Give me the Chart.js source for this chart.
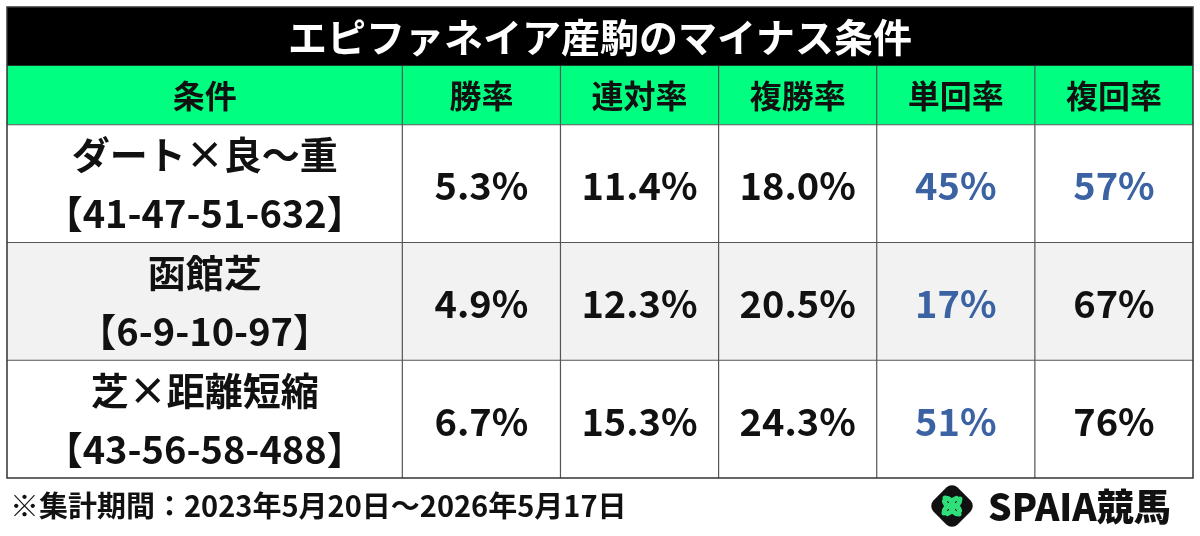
<!DOCTYPE html>
<html><head><meta charset="utf-8">
<script src="https://cdn.jsdelivr.net/npm/chart.js@4.4.1/dist/chart.umd.min.js"></script>
<style>html,body{margin:0;padding:0;background:#fff}#wrap{width:1200px;height:536px}</style>
</head><body><div id="wrap"><canvas id="c"></canvas></div>
<script>
const title = 'エピファネイア産駒のマイナス条件';
const headers = ['条件', '勝率', '連対率', '複勝率', '単回率', '複回率'];
const conditions = ['ダート×良～重', '函館芝', '芝×距離短縮'];
const records = ['【41-47-51-632】', '【6-9-10-97】', '【43-56-58-488】'];
const winRate = [5.3, 4.9, 6.7];
const placeRate = [11.4, 12.3, 15.3];
const showRate = [18.0, 20.5, 24.3];
const winReturn = [45, 17, 51];
const showReturn = [57, 67, 76];
const note = '※集計期間：2023年5月20日～2026年5月17日';

const FONT = '"Noto Sans CJK JP", "Noto Sans", sans-serif';
const firstColUnits = 2.5; // condition column is wider

function colEdge(i) { return i === 0 ? 0 : firstColUnits + (i - 1); }

const tablePlugin = {
    id: 'table',
    afterDraw(chart) {
        const ctx = chart.ctx;
        const x = chart.scales.x, y = chart.scales.y;
        const L = x.getPixelForValue(0), R = x.getPixelForValue(colEdge(headers.length));
        const px = v => x.getPixelForValue(v);
        const py = v => y.getPixelForValue(v);
        ctx.save();
        ctx.textAlign = 'center'; ctx.textBaseline = 'middle';

        // title bar
        ctx.fillStyle = '#000';
        ctx.fillRect(L, py(0), R - L, py(0.5) - py(0));
        ctx.fillStyle = '#fff';
        ctx.font = 'bold 39px ' + FONT;
        ctx.fillText(title, (L + R) / 2, (py(0) + py(0.5)) / 2 + 1);

        // header row
        ctx.fillStyle = '#00ff80';
        ctx.fillRect(L, py(0.5), R - L, py(1) - py(0.5));
        ctx.fillStyle = '#111';
        ctx.font = 'bold 32px ' + FONT;
        headers.forEach((h, i) => {
            ctx.fillText(h, (px(colEdge(i)) + px(colEdge(i + 1))) / 2, (py(0.5) + py(1)) / 2 + 1);
        });

        // body rows
        const cols = [winRate.map(v => v.toFixed(1) + '%'), placeRate.map(v => v.toFixed(1) + '%'),
                      showRate.map(v => v.toFixed(1) + '%'), winReturn.map(v => v + '%'), showReturn.map(v => v + '%')];
        const raw = [winRate, placeRate, showRate, winReturn, showReturn];
        conditions.forEach((c, r) => {
            const top = py(1 + r), bot = py(2 + r), mid = (top + bot) / 2;
            ctx.fillStyle = r % 2 === 1 ? '#f2f2f2' : '#fff';
            ctx.fillRect(L, top, R - L, bot - top);
            const cx0 = (px(0) + px(colEdge(1))) / 2;
            ctx.fillStyle = '#111';
            ctx.font = 'bold 38px ' + FONT;
            ctx.fillText(c, cx0, mid - 29);
            ctx.fillText(records[r], cx0, mid + 30);
            cols.forEach((vals, j) => {
                const isReturn = j >= 3;
                ctx.fillStyle = isReturn && raw[j][r] < 60 ? '#3b63a3' : '#111';
                ctx.font = 'bold 38px ' + FONT;
                ctx.fillText(vals[r], (px(colEdge(j + 1)) + px(colEdge(j + 2))) / 2, mid + 2);
            });
        });

        // grid lines
        ctx.strokeStyle = '#555'; ctx.lineWidth = 1.2;
        ctx.beginPath();
        for (let r = 1; r <= conditions.length; r++) { ctx.moveTo(L, py(r)); ctx.lineTo(R, py(r)); }
        for (let i = 1; i < headers.length; i++) {
            ctx.moveTo(px(colEdge(i)), py(0.5)); ctx.lineTo(px(colEdge(i)), py(1 + conditions.length));
        }
        ctx.stroke();
        ctx.strokeStyle = '#333'; ctx.lineWidth = 1.5;
        ctx.strokeRect(L, py(0), R - L, py(1 + conditions.length) - py(0));

        // footer note
        ctx.textAlign = 'left';
        ctx.fillStyle = '#111';
        ctx.font = 'bold 29px ' + FONT;
        ctx.fillText(note, 10, 506);

        // logo
        const lx = 952, ly = 506;
        ctx.save();
        ctx.translate(lx, ly); ctx.rotate(Math.PI / 4);
        ctx.fillStyle = '#111';
        const s = 34;
        ctx.beginPath(); ctx.roundRect(-s / 2, -s / 2, s, s, 8); ctx.fill();
        ctx.restore();
        ctx.strokeStyle = '#2fe07a'; ctx.lineWidth = 5; ctx.lineCap = 'round';
        for (let k = 0; k < 4; k++) {
            const a = k * Math.PI / 2;
            ctx.beginPath();
            ctx.arc(lx + Math.cos(a) * 7, ly + Math.sin(a) * 7, 8, a + Math.PI * 0.5, a + Math.PI * 1.4);
            ctx.stroke();
        }
        ctx.fillStyle = '#111';
        ctx.font = '900 37px ' + FONT;
        ctx.fillText('SPAIA競馬', 988, 507);
        ctx.restore();
    }
};

new Chart(document.getElementById('c'), {
    type: 'scatter',
    data: { datasets: [{ data: [] }] },
    options: {
        responsive: true, maintainAspectRatio: false, animation: false,
        layout: { padding: { left: 7, right: 7, top: 7, bottom: 58 } },
        plugins: { legend: { display: false }, tooltip: { enabled: false } },
        scales: {
            x: { type: 'linear', min: 0, max: colEdge(headers.length), display: false },
            y: { type: 'linear', min: 0, max: 1 + conditions.length, reverse: true, display: false }
        }
    },
    plugins: [tablePlugin]
});
</script></body></html>
